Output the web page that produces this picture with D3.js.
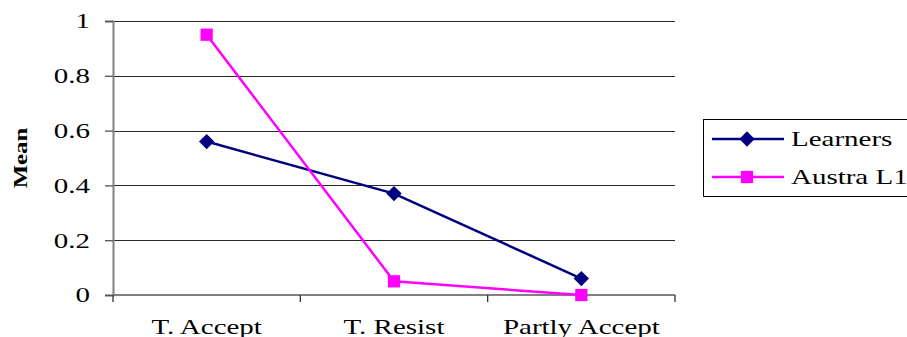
<!DOCTYPE html>
<html>
<head>
<meta charset="utf-8">
<script src="https://cdn.jsdelivr.net/npm/d3@7"></script>
<style>
  html, body { margin: 0; padding: 0; background: #fff; }
  svg { display: block; }
</style>
</head>
<body>
<svg id="chart" width="907" height="337"></svg>
<script>
// Categories and series means
const categories = ["T. Accept", "T. Resist", "Partly Accept"];
const learners = [0.56, 0.37, 0.06];
const australL1 = [0.95, 0.05, 0.0];
const yTicks = [0, 0.2, 0.4, 0.6, 0.8, 1];
const yTickLabels = ["0", "0.2", "0.4", "0.6", "0.8", "1"];
const seriesNames = ["Learners", "Austra L1"];

const series = [
  { name: seriesNames[0], values: learners, color: "#000080", shape: "diamond" },
  { name: seriesNames[1], values: australL1, color: "#FF00FF", shape: "square" }
];

const FONT = "'Liberation Serif', 'Times New Roman', Times, 'DejaVu Serif', serif";
const svg = d3.select("#chart").attr("font-family", FONT);
const plot = { left: 113, right: 675, top: 21, bottom: 295 };
const stretch = 1.38; // wide serif lettering

const x = d3.scaleBand().domain(categories).range([plot.left, plot.right]).padding(0);
const y = d3.scaleLinear().domain([0, 1]).range([plot.bottom, plot.top]);
const cx = c => x(c) + x.bandwidth() / 2;

// Horizontal gridlines
svg.append("g").selectAll("line")
  .data(yTicks.filter(d => d > 0))
  .join("line")
  .attr("x1", plot.left).attr("x2", plot.right)
  .attr("y1", d => Math.round(y(d)) + 0.5).attr("y2", d => Math.round(y(d)) + 0.5)
  .attr("stroke", "#2a2a2a").attr("stroke-width", 1.2);

// Y axis
const yAxis = svg.append("g").attr("transform", `translate(${plot.left},0)`)
  .call(d3.axisLeft(y).tickValues(yTicks).tickSize(8).tickFormat(""));
yAxis.select(".domain").attr("stroke", "#808080").attr("stroke-width", 2);
yAxis.selectAll(".tick line").attr("stroke", "#555").attr("stroke-width", 1.3);

// Y tick labels
svg.append("g").selectAll("text")
  .data(yTicks)
  .join("text")
  .attr("font-family", FONT)
  .attr("transform", d => `translate(90,${y(d)}) scale(${stretch},1)`)
  .attr("text-anchor", "end")
  .attr("dy", "0.35em")
  .attr("font-size", 21)
  .text((d, i) => yTickLabels[i]);

// X axis with ticks on category boundaries
const bounds = categories.map(c => x(c)).concat([plot.right]);
svg.append("line")
  .attr("x1", plot.left).attr("x2", plot.right)
  .attr("y1", plot.bottom).attr("y2", plot.bottom)
  .attr("stroke", "#808080").attr("stroke-width", 2);
svg.append("g").selectAll("line")
  .data(bounds)
  .join("line")
  .attr("x1", d => d).attr("x2", d => d)
  .attr("y1", plot.bottom).attr("y2", plot.bottom + 7)
  .attr("stroke", "#333").attr("stroke-width", 1.3);

// X category labels
svg.append("g").selectAll("text")
  .data(categories)
  .join("text")
  .attr("font-family", FONT)
  .attr("transform", d => `translate(${cx(d)},334) scale(${stretch},1)`)
  .attr("text-anchor", "middle")
  .attr("font-size", 21)
  .text(d => d);

// Y axis title
svg.append("text")
  .attr("font-family", FONT)
  .attr("transform", `translate(27,158) rotate(-90) scale(${stretch},1)`)
  .attr("text-anchor", "middle")
  .attr("font-size", 18)
  .attr("font-weight", "bold")
  .text("Mean");

const diamond = d3.symbol().type(d3.symbolDiamond2).size(150);
const square = d3.symbol().type(d3.symbolSquare).size(150);

const line = d3.line()
  .x((d, i) => cx(categories[i]))
  .y(d => y(d));

// Series lines and markers
series.forEach(s => {
  svg.append("path")
    .datum(s.values)
    .attr("fill", "none")
    .attr("stroke", s.color)
    .attr("stroke-width", 2.5)
    .attr("d", line);
  svg.append("g").selectAll("path")
    .data(s.values)
    .join("path")
    .attr("transform", (d, i) => `translate(${cx(categories[i])},${y(d)})`)
    .attr("d", s.shape === "diamond" ? diamond : square)
    .attr("fill", s.color);
});

// Legend
const legend = svg.append("g");
legend.append("rect")
  .attr("x", 703.5).attr("y", 119.5)
  .attr("width", 230).attr("height", 77)
  .attr("fill", "#fff").attr("stroke", "#000").attr("stroke-width", 1);
const rowY = [139, 177];
series.forEach((s, i) => {
  const g = legend.append("g").attr("transform", `translate(0,${rowY[i]})`);
  g.append("line")
    .attr("x1", 712).attr("x2", 784)
    .attr("stroke", s.color).attr("stroke-width", 2.5);
  g.append("path")
    .attr("transform", "translate(747,0)")
    .attr("d", s.shape === "diamond" ? diamond : square)
    .attr("fill", s.color);
  g.append("text")
    .attr("font-family", FONT)
    .attr("transform", `translate(791,0) scale(${stretch},1)`)
    .attr("dy", "0.35em")
    .attr("font-size", 21)
    .text(s.name);
});
</script>
</body>
</html>
